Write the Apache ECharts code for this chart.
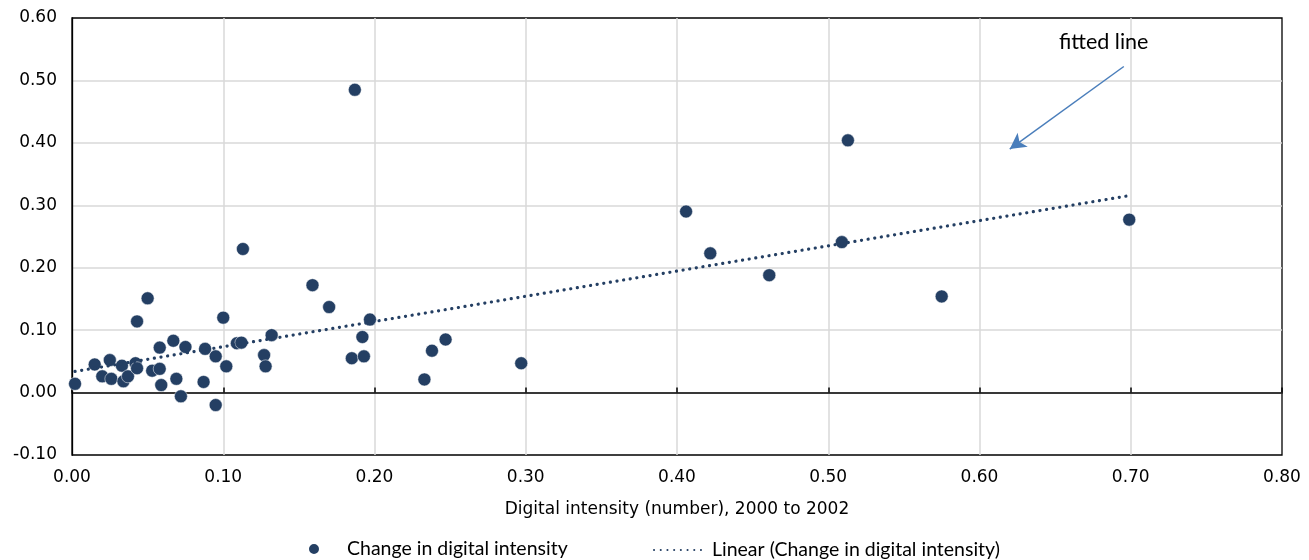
<!DOCTYPE html>
<html>
<head>
<meta charset="utf-8">
<script src="https://cdn.jsdelivr.net/npm/echarts@6/dist/echarts.min.js"></script>
<style>
  html, body { margin: 0; padding: 0; background: #fff; }
  #chart { width: 1309px; height: 560px; }
</style>
</head>
<body>
<div id="chart"></div>
<script>
// Digital intensity in 2000-2002 (x) against its subsequent change (y), one point per industry
const intensity2000 = [
  0.002, 0.015, 0.020, 0.025, 0.026, 0.033, 0.034, 0.037, 0.042, 0.043,
  0.043, 0.050, 0.053, 0.058, 0.058, 0.059, 0.067, 0.069, 0.072, 0.075,
  0.087, 0.088, 0.095, 0.095, 0.100, 0.102, 0.109, 0.112, 0.113, 0.127,
  0.128, 0.132, 0.159, 0.170, 0.185, 0.187, 0.192, 0.193, 0.197, 0.233,
  0.238, 0.247, 0.297, 0.406, 0.422, 0.461, 0.509, 0.513, 0.575, 0.699
];
const intensityChange = [
  0.014, 0.045, 0.026, 0.052, 0.022, 0.043, 0.018, 0.026, 0.047, 0.039,
  0.114, 0.151, 0.035, 0.038, 0.072, 0.012, 0.083, 0.022, -0.006, 0.073,
  0.017, 0.070, 0.058, -0.020, 0.120, 0.042, 0.079, 0.080, 0.230, 0.060,
  0.042, 0.092, 0.172, 0.137, 0.055, 0.485, 0.089, 0.058, 0.117, 0.021,
  0.067, 0.085, 0.047, 0.290, 0.223, 0.188, 0.241, 0.404, 0.154, 0.277
];

const xTicks = [0, 0.1, 0.2, 0.3, 0.4, 0.5, 0.6, 0.7, 0.8];
const yTicks = [-0.1, 0, 0.1, 0.2, 0.3, 0.4, 0.5, 0.6];

const seriesName = 'Change in digital intensity';
const trendName = 'Linear (Change in digital intensity)';
const xTitle = 'Digital intensity (number), 2000 to 2002';
const noteText = 'fitted line';
// annotation arrow: from the note towards the fitted line
const noteArrowFrom = [0.6954, 0.5223];
const noteArrowTo = [0.620, 0.390];

// ordinary least squares fit of change on initial intensity
function linearFit(xs, ys) {
  const n = xs.length;
  let mx = 0, my = 0;
  for (let i = 0; i < n; i++) { mx += xs[i]; my += ys[i]; }
  mx /= n; my /= n;
  let sxx = 0, sxy = 0;
  for (let i = 0; i < n; i++) {
    sxx += (xs[i] - mx) * (xs[i] - mx);
    sxy += (xs[i] - mx) * (ys[i] - my);
  }
  const slope = sxy / sxx;
  return { slope: slope, intercept: my - slope * mx };
}

const fit = linearFit(intensity2000, intensityChange);
const xMin = Math.min.apply(null, intensity2000);
const xMax = Math.max.apply(null, intensity2000);
const trendPoints = [
  [xMin, fit.intercept + fit.slope * xMin],
  [xMax, fit.intercept + fit.slope * xMax]
];
const points = intensity2000.map((x, i) => [x, intensityChange[i]]);

const navy = '#243f63';
const axisFont = 'DejaVu Sans';
const textFont = 'Lato';
const gridLine = { show: true, showMinLine: false, showMaxLine: false, lineStyle: { color: '#d9d9d9', width: 1.5 } };

const chart = echarts.init(document.getElementById('chart'), null, { renderer: 'canvas' });

chart.setOption({
  animation: false,
  backgroundColor: '#fff',
  grid: {
    left: 72, right: 27, top: 18, bottom: 105,
    show: true, borderColor: '#000', borderWidth: 1.3, backgroundColor: 'transparent'
  },
  legend: [
    {
      data: [seriesName],
      left: 302, top: 534,
      itemWidth: 56, itemHeight: 12,
      textStyle: { fontFamily: textFont, fontSize: 19.5, color: '#000' }
    },
    {
      data: [trendName],
      left: 648, top: 535,
      itemWidth: 53, itemHeight: 10,
      itemStyle: { opacity: 0 },
      textStyle: { fontFamily: textFont, fontSize: 19.5, color: '#000' }
    }
  ],
  xAxis: [
    {
      type: 'value',
      min: xTicks[0], max: xTicks[xTicks.length - 1], interval: 0.1,
      name: xTitle, nameLocation: 'middle', nameGap: 46,
      nameTextStyle: { fontFamily: axisFont, fontSize: 17, color: '#000' },
      axisLine: { show: false, onZero: false },
      axisTick: { show: false },
      axisLabel: {
        margin: 14, fontFamily: axisFont, fontSize: 17, color: '#000',
        formatter: v => v.toFixed(2)
      },
      splitLine: gridLine
    },
    {
      // zero line across the plot, with its small tick marks
      type: 'value',
      position: 'bottom',
      min: xTicks[0], max: xTicks[xTicks.length - 1], interval: 0.1,
      axisLine: { show: true, onZero: true, lineStyle: { color: '#000', width: 1.5 } },
      axisTick: { show: true, inside: true, length: 5, lineStyle: { color: '#000', width: 1.5 } },
      axisLabel: { show: false },
      splitLine: { show: false }
    }
  ],
  yAxis: {
    type: 'value',
    min: yTicks[0], max: yTicks[yTicks.length - 1], interval: 0.1,
    axisLine: { show: true, lineStyle: { color: '#000', width: 1.3 } },
    axisTick: { show: false },
    axisLabel: {
      margin: 15, fontFamily: axisFont, fontSize: 17, color: '#000',
      formatter: v => v.toFixed(2)
    },
    splitLine: gridLine
  },
  graphic: [
    {
      type: 'text', left: 1059, top: 31, z: 10,
      style: { text: noteText, fontFamily: textFont, fontSize: 21.5, fill: '#000' }
    }
  ],
  series: [
    {
      name: seriesName,
      type: 'scatter',
      data: points,
      symbol: 'circle',
      symbolSize: 13,
      itemStyle: { color: navy, borderColor: '#ffffff', borderWidth: 0.5, opacity: 1 },
      z: 3
    },
    {
      name: trendName,
      type: 'line',
      data: trendPoints,
      showSymbol: false,
      symbol: 'none',
      lineStyle: { color: navy, width: 3.2, type: [0.1, 6.6], cap: 'round' },
      itemStyle: { color: navy },
      silent: true,
      z: 4,
      markLine: {
        silent: true,
        symbol: ['none', 'arrow'],
        symbolSize: [13, 16],
        label: { show: false },
        lineStyle: { color: '#4a7ebb', width: 1.5, type: 'solid' },
        data: [[{ coord: noteArrowFrom }, { coord: noteArrowTo }]]
      }
    }
  ]
});
</script>
</body>
</html>
